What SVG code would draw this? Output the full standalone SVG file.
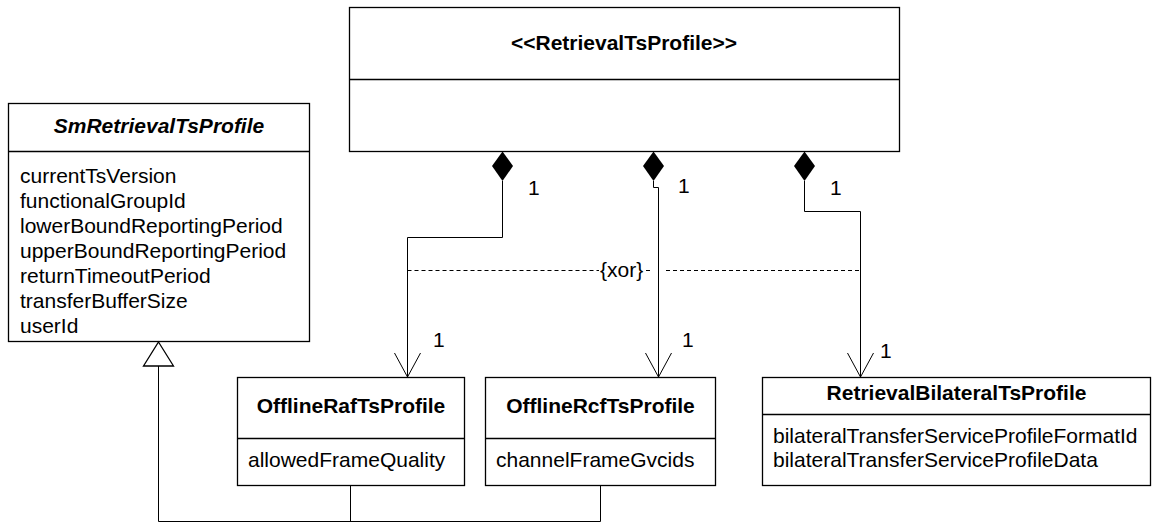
<svg xmlns="http://www.w3.org/2000/svg" width="1152" height="523" viewBox="0 0 1152 523">
<style>
.box{fill:#fff;stroke:#000;stroke-width:1.3}
.sep{stroke:#000;stroke-width:1.3}
.t{font-family:"Liberation Sans",Arial,sans-serif;font-size:21px;fill:#000}
.b{font-weight:bold}
.c{text-anchor:middle}
.ln{fill:none;stroke:#000;stroke-width:1}
.dash{fill:none;stroke:#000;stroke-width:1;stroke-dasharray:4,3}
</style>
<defs>
<marker id="open" markerWidth="30" markerHeight="30" refX="24" refY="13" orient="auto" markerUnits="userSpaceOnUse">
<path d="M0,0 L24,13 L0,26" fill="none" stroke="#000" stroke-width="1"/>
</marker>
</defs>
<g id="RetrievalTsProfile">
<rect class="box" x="349.5" y="7.5" width="550" height="144"/>
<line class="sep" x1="349.5" y1="79.5" x2="899.5" y2="79.5"/>
<text class="t b c" x="624" y="50">&lt;&lt;RetrievalTsProfile&gt;&gt;</text>
</g>
<g id="SmRetrievalTsProfile">
<rect class="box" x="8.5" y="103.5" width="301" height="238"/>
<line class="sep" x1="8.5" y1="151.5" x2="309.5" y2="151.5"/>
<text class="t b c" x="159" y="133" font-style="italic">SmRetrievalTsProfile</text>
<text class="t" x="20" y="183">currentTsVersion</text>
<text class="t" x="20" y="208">functionalGroupId</text>
<text class="t" x="20" y="233">lowerBoundReportingPeriod</text>
<text class="t" x="20" y="258">upperBoundReportingPeriod</text>
<text class="t" x="20" y="283">returnTimeoutPeriod</text>
<text class="t" x="20" y="308">transferBufferSize</text>
<text class="t" x="20" y="333">userId</text>
</g>
<g id="OfflineRafTsProfile">
<rect class="box" x="237.5" y="377.5" width="227" height="108"/>
<line class="sep" x1="237.5" y1="438.5" x2="464.5" y2="438.5"/>
<text class="t b c" x="351" y="413">OfflineRafTsProfile</text>
<text class="t" x="248" y="467">allowedFrameQuality</text>
</g>
<g id="OfflineRcfTsProfile">
<rect class="box" x="485.5" y="377.5" width="230" height="108"/>
<line class="sep" x1="485.5" y1="438.5" x2="715.5" y2="438.5"/>
<text class="t b c" x="600.5" y="413">OfflineRcfTsProfile</text>
<text class="t" x="496" y="467">channelFrameGvcids</text>
</g>
<g id="RetrievalBilateralTsProfile">
<rect class="box" x="762.5" y="377.5" width="388" height="108"/>
<line class="sep" x1="762.5" y1="414.5" x2="1150.5" y2="414.5"/>
<text class="t b c" x="956.5" y="400">RetrievalBilateralTsProfile</text>
<text class="t" x="773" y="443">bilateralTransferServiceProfileFormatId</text>
<text class="t" x="773" y="467">bilateralTransferServiceProfileData</text>
</g>
<g id="connectors">
<polyline class="ln" points="502.5,181 502.5,237.5 407.5,237.5 407.5,377" marker-end="url(#open)"/>
<polyline class="ln" points="653.5,181 653.5,187.5 658.5,187.5 658.5,377" marker-end="url(#open)"/>
<polyline class="ln" points="804.5,181 804.5,211.5 860.5,211.5 860.5,377" marker-end="url(#open)"/>
<path d="M502.5,151.5 L513,166 L502.5,181 L492,166 Z" fill="#000"/>
<path d="M653.5,151.5 L664,166 L653.5,181 L643,166 Z" fill="#000"/>
<path d="M804.5,151.5 L815,166 L804.5,181 L794,166 Z" fill="#000"/>
<polyline class="ln" points="158.5,366 158.5,521.5 600.5,521.5"/>
<line class="ln" x1="350.5" y1="486" x2="350.5" y2="521.5"/>
<line class="ln" x1="600.5" y1="486" x2="600.5" y2="521.5"/>
<path d="M158.5,342 L173.5,366 L143.5,366 Z" fill="#fff" stroke="#000" stroke-width="1.3"/>
<line class="dash" x1="407.5" y1="270.5" x2="599" y2="270.5"/>
<line class="dash" x1="646" y1="270.5" x2="651" y2="270.5"/>
<line class="dash" x1="666" y1="270.5" x2="860.5" y2="270.5"/>
<text class="t" x="600" y="277">{xor}</text>
<text class="t" x="528" y="195">1</text>
<text class="t" x="678" y="193">1</text>
<text class="t" x="830" y="195">1</text>
<text class="t" x="433" y="347">1</text>
<text class="t" x="682" y="347">1</text>
<text class="t" x="880" y="358">1</text>
</g>
</svg>
